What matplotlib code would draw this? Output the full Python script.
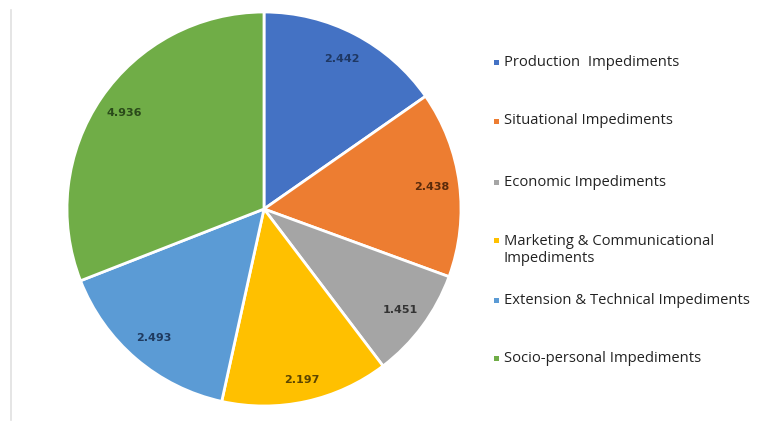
import matplotlib
matplotlib.use("Agg")
import matplotlib.pyplot as plt
from matplotlib.patches import Rectangle
from matplotlib.lines import Line2D

categories = ["Production  Impediments", "Situational Impediments", "Economic Impediments",
              "Marketing & Communicational\nImpediments", "Extension & Technical Impediments",
              "Socio-personal Impediments"]
values = [2.442, 2.438, 1.451, 2.197, 2.493, 4.936]
labels = ["2.442", "2.438", "1.451", "2.197", "2.493", "4.936"]
colors = ["#4472C4", "#ED7D31", "#A5A5A5", "#FFC000", "#5B9BD5", "#70AD47"]
label_colors = ["#1F3864", "#5A2A0A", "#333333", "#5C4500", "#1F3A5F", "#2A4A1A"]

W, H = 778, 425
fig = plt.figure(figsize=(W / 100, H / 100), dpi=100)
fig.patch.set_facecolor("white")

cx, cy, r = 264, 209, 197
ax = fig.add_axes([(cx - r) / W, (H - cy - r) / H, 2 * r / W, 2 * r / H])
wedges, texts = ax.pie(values, colors=colors, startangle=90, counterclock=False,
                       labels=labels, labeldistance=0.86,
                       wedgeprops=dict(edgecolor="white", linewidth=2),
                       textprops=dict(fontsize=8, fontweight="bold", family="DejaVu Sans"))
for i, (t, c) in enumerate(zip(texts, label_colors)):
    t.set_color(c)
    t.set_ha("center")
    t.set_va("center")
    if i == 3:
        x, y = t.get_position()
        t.set_position((x * 0.89 / 0.86, y * 0.89 / 0.86))
ax.set_aspect("equal")
ax.set_xlim(-1.0, 1.0)
ax.set_ylim(-1.0, 1.0)
ax.axis("off")

# faint left border line
fig.add_artist(Line2D([11 / W, 11 / W], [1 - 10 / H, 1 - 420 / H], color="#e0e0e0", lw=1.2))

# legend
leg_y = [62, 121, 182, 250, 300, 358]
for name, col, y in zip(categories, colors, leg_y):
    nl = name.count("\n")
    fig.add_artist(Rectangle(((494) / W, 1 - (y - nl * 9.5 + 2.5) / H), 5 / W, 5 / H,
                             transform=fig.transFigure, facecolor=col, edgecolor="none"))
    fig.text(503.5 / W, 1 - y / H, name, fontsize=10.6, family="Open Sans", color="#222222",
             ha="left", va="center", linespacing=1.1)

fig.savefig("out.png", dpi=100, facecolor="white")
